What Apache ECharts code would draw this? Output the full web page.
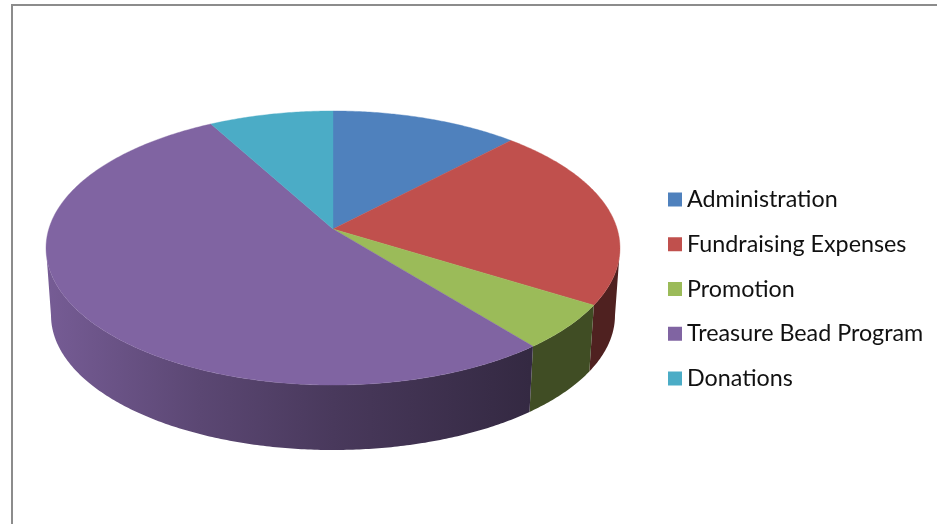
<!DOCTYPE html>
<html>
<head>
<meta charset="utf-8">
<style>html,body{margin:0;padding:0;background:#fff}#c{width:937px;height:524px}</style>
<script src="https://cdn.jsdelivr.net/npm/echarts@6/dist/echarts.min.js"></script>
</head>
<body>
<div id="c"></div>
<script>
const categories = ['Administration', 'Fundraising Expenses', 'Promotion', 'Treasure Bead Program', 'Donations'];
const values = [12.1, 21.7, 5.4, 52.8, 8.0];
const colors = ['#4F81BD', '#C0504D', '#9BBB59', '#8064A2', '#4BACC6'];

const total = values.reduce((a, b) => a + b, 0);
const cx = 333, hubY = 229, K = 0.1387, A = 284.2, B = 134.4;
const baseScale = 0.9826, baseY = 296.7;
const rimLimit = Math.acos(-K);                 // silhouette angle of the disc

function project(phi, scale, cy) {
  const u = Math.sin(phi), v = Math.cos(phi), w = 1 + K * v;
  return [cx + scale * A * u / w, cy - scale * B * v / w];
}
function arc(a0, a1, scale, cy) {
  const n = Math.max(2, Math.ceil(Math.abs(a1 - a0) / 0.01)), out = [];
  for (let i = 0; i <= n; i++) out.push(project(a0 + (a1 - a0) * i / n, scale, cy));
  return out;
}
function shade(hex, f) {
  const n = parseInt(hex.slice(1), 16);
  const c = [n >> 16, (n >> 8) & 255, n & 255].map(x => Math.round(x * f));
  return 'rgb(' + c.join(',') + ')';
}
function sideFill(hex) {
  const L = 46, R = 620, pt = [[46, .92], [200, .71], [333, .57], [530, .41], [620, .41]];
  return new echarts.graphic.LinearGradient(L, 0, R, 0,
    pt.map(p => ({ offset: (p[0] - L) / (R - L), color: shade(hex, p[1]) })), true);
}
function renderSlice(params, api) {
  const a0 = api.value(0) / total * 2 * Math.PI, a1 = api.value(1) / total * 2 * Math.PI;
  const color = api.visual('color'), children = [];
  const s0 = Math.max(a0, rimLimit), s1 = Math.min(a1, 2 * Math.PI - rimLimit);
  if (s1 > s0) {
    const pts = arc(s0, s1, 1, hubY).concat(arc(s1, s0, baseScale, baseY));
    children.push({ type: 'polygon', z2: 1, shape: { points: pts },
      style: { fill: sideFill(color), stroke: null } });
  }
  children.push({ type: 'polygon', z2: 5, shape: { points: [[cx, hubY]].concat(arc(a0, a1, 1, hubY)) },
    style: { fill: color, stroke: color, lineWidth: 0.4 } });
  return { type: 'group', children };
}
let acc = 0;
const series = categories.map((name, i) => {
  const start = acc; acc += values[i];
  return { type: 'custom', name, coordinateSystem: 'none', silent: true, animation: false,
    itemStyle: { color: colors[i] }, data: [[start, acc]], renderItem: renderSlice };
});
const chart = echarts.init(document.getElementById('c'), null, { renderer: 'canvas' });
chart.setOption({
  animation: false,
  backgroundColor: '#fff',
  legend: {
    orient: 'vertical', left: 668, top: 186, icon: 'rect', itemWidth: 14, itemHeight: 14,
    itemGap: 17.75, selectedMode: false, padding: 0, data: categories,
    textStyle: { fontFamily: 'Lato', fontSize: 23.3, color: '#111', lineHeight: 27 }
  },
  graphic: [
    { type: 'line', shape: { x1: 12, y1: 5, x2: 937, y2: 5 }, style: { stroke: '#8c8c8c', lineWidth: 2 } },
    { type: 'line', shape: { x1: 12, y1: 4, x2: 12, y2: 524 }, style: { stroke: '#8c8c8c', lineWidth: 2 } }
  ],
  series
});
</script>
</body>
</html>
